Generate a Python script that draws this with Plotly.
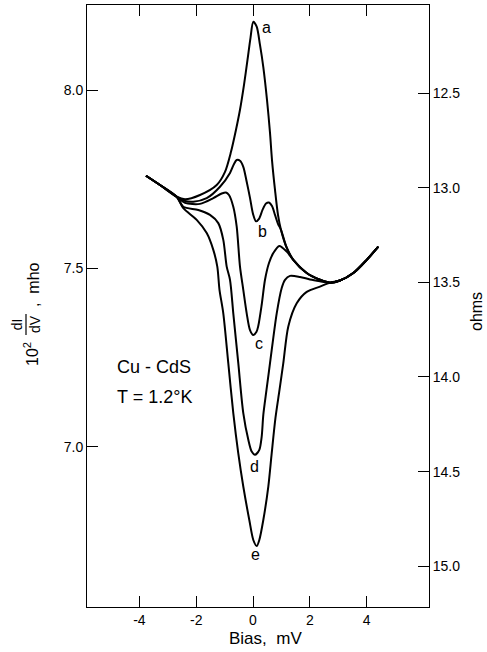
import plotly.graph_objects as go

# ---------------- data (Bias in mV, 10^2 dI/dV in mho) ----------------
common_left_x = [-3.768, -3.275, -2.687]
common_left_y = [7.760, 7.734, 7.701]
common_right_x = [2.711, 3.063, 3.532, 4.004, 4.412]
common_right_y = [7.460, 7.466, 7.487, 7.524, 7.561]

a_x = [-2.394, -1.866, -1.278, -0.986, -0.775, -0.599, -0.458, -0.317, -0.194, -0.088,
       0.011, 0.130, 0.246, 0.363, 0.493, 0.599, 0.669, 0.775, 0.880, 0.986,
       1.187, 1.419, 1.891, 2.359]
a_y = [7.694, 7.706, 7.734, 7.771, 7.827, 7.889, 7.945, 8.015, 8.085, 8.147,
       8.192, 8.178, 8.127, 8.065, 7.973, 7.880, 7.804, 7.720, 7.650, 7.608,
       7.558, 7.524, 7.487, 7.468]

b_x = [-2.394, -2.102, -1.630, -1.162, -0.810, -0.669, -0.574, -0.458, -0.342, -0.222,
       -0.106, 0.000, 0.106, 0.211, 0.335, 0.458, 0.563, 0.669, 0.775, 0.880,
       0.986, 1.187, 1.419, 1.891, 2.359]
b_y = [7.689, 7.687, 7.697, 7.729, 7.768, 7.793, 7.804, 7.802, 7.785, 7.743,
       7.698, 7.653, 7.632, 7.639, 7.664, 7.682, 7.685, 7.675, 7.650, 7.625,
       7.608, 7.558, 7.524, 7.487, 7.468]

c_x = [-2.394, -1.866, -1.398, -1.102, -0.951, -0.845, -0.694, -0.574, -0.458, -0.342,
       -0.222, -0.106, 0.011, 0.123, 0.187, 0.306, 0.423, 0.563, 0.715, 0.926,
       1.187, 1.419, 1.891, 2.359]
c_y = [7.684, 7.681, 7.697, 7.710, 7.713, 7.706, 7.673, 7.617, 7.505, 7.440,
       7.374, 7.327, 7.313, 7.322, 7.339, 7.398, 7.468, 7.515, 7.543, 7.563,
       7.547, 7.524, 7.487, 7.468]

d_x = [-2.454, -1.926, -1.514, -1.222, -1.046, -0.926, -0.810, -0.694, -0.518, -0.342,
       -0.165, -0.046, 0.070, 0.222, 0.306, 0.363, 0.475, 0.599, 0.835, 1.011,
       1.127, 1.303, 1.655, 2.007, 2.359]
d_y = [7.673, 7.664, 7.650, 7.627, 7.580, 7.505, 7.468, 7.374, 7.234, 7.094,
       7.019, 6.986, 6.977, 6.991, 7.028, 7.089, 7.159, 7.234, 7.374, 7.445,
       7.468, 7.479, 7.476, 7.469, 7.464]

e_x = [-2.454, -1.982, -1.630, -1.398, -1.257, -1.180, -1.046, -0.870, -0.694, -0.518,
       -0.342, -0.130, 0.011, 0.130, 0.222, 0.363, 0.539, 0.658, 0.792, 0.933,
       1.067, 1.243, 1.539, 1.891, 2.359]
e_y = [7.669, 7.636, 7.599, 7.552, 7.505, 7.440, 7.374, 7.234, 7.094, 6.981,
       6.888, 6.794, 6.738, 6.721, 6.738, 6.794, 6.888, 6.981, 7.081, 7.159,
       7.234, 7.337, 7.402, 7.434, 7.449]

curve_names = ["a", "b", "c", "d", "e"]
curves_x = [a_x, b_x, c_x, d_x, e_x]
curves_y = [a_y, b_y, c_y, d_y, e_y]
label_x = [0.482, 0.342, 0.222, 0.035, 0.081]
label_y = [8.175, 7.603, 7.290, 6.944, 6.696]

x_tickvals = [-4, -2, 0, 2, 4]
x_ticktext = ["-4", "-2", "0", "2", "4"]
y_tickvals = [7.0, 7.5, 8.0]
y_ticktext = ["7.0", "7.5", "8.0"]
ohm_tickvals = [12.5, 13.0, 13.5, 14.0, 14.5, 15.0]
ohm_ticktext = ["12.5", "13.0", "13.5", "14.0", "14.5", "15.0"]

FONT = "Liberation Sans"
W, H = 487, 652
ML, MR, MT, MB = 87, 58, 5, 45

fig = go.Figure()
for name, xs, ys in zip(curve_names, curves_x, curves_y):
    fig.add_trace(go.Scatter(
        x=common_left_x + xs + common_right_x,
        y=common_left_y + ys + common_right_y,
        mode="lines", name=name, showlegend=False,
        line=dict(color="black", width=2, shape="spline", smoothing=0.8),
        hoverinfo="skip",
    ))

# dummy trace to activate the ohms axis
fig.add_trace(go.Scatter(x=[0], y=[13.0], yaxis="y2", mode="lines",
                         showlegend=False, hoverinfo="skip"))

axis_common = dict(showgrid=False, zeroline=False, showline=True, linecolor="black",
                   linewidth=1, ticks="inside", ticklen=11, tickcolor="black",
                   tickwidth=1, tickfont=dict(family=FONT, size=14, color="black"))

fig.update_layout(
    width=W, height=H,
    margin=dict(l=ML, r=MR, t=MT, b=MB, pad=0),
    paper_bgcolor="white", plot_bgcolor="white",
    font=dict(family=FONT, color="black"),
    xaxis=dict(range=[-5.845, 6.197], tickvals=x_tickvals, ticktext=x_ticktext,
               mirror="ticks", **axis_common),
    yaxis=dict(range=[6.55, 8.239], tickvals=y_tickvals, ticktext=y_ticktext,
               mirror=True, **axis_common),
    yaxis2=dict(range=[15.215, 12.035], tickvals=ohm_tickvals, ticktext=ohm_ticktext,
                overlaying="y", side="right", **axis_common),
)

def px2paper(px, py):
    return (px - ML) / (W - ML - MR), (H - MB - py) / (H - MT - MB)

def paper_text(px, py, text, size, angle=0, xanchor="center"):
    x, y = px2paper(px, py)
    return dict(x=x, y=y, xref="paper", yref="paper", text=text, showarrow=False,
                textangle=angle, xanchor=xanchor, yanchor="middle",
                font=dict(family=FONT, size=size, color="black"))

ann = []
for name, lx, ly in zip(curve_names, label_x, label_y):
    ann.append(dict(x=lx, y=ly, xref="x", yref="y", text=name, showarrow=False,
                    xanchor="center", yanchor="middle",
                    font=dict(family=FONT, size=16, color="black")))

ann.append(paper_text(265, 638, "Bias,  mV", 17))
ann.append(paper_text(476, 311, "ohms", 16, -90))
ann.append(paper_text(31, 354, "10<sup>2</sup>", 16, -90))
ann.append(paper_text(26, 324, "dI<br>dV", 14, -90))
ann.append(paper_text(33, 285, ",  mho", 16, -90))
ann.append(paper_text(115, 367, "Cu - CdS", 18, 0, "left"))
ann.append(paper_text(115, 397, "T = 1.2°K", 18, 0, "left"))
fig.update_layout(annotations=ann)

# fraction bar
lx0, ly0 = px2paper(26, 314)
lx1, ly1 = px2paper(26, 335)
fig.add_shape(type="line", xref="paper", yref="paper", x0=lx0, x1=lx1, y0=ly0, y1=ly1,
              line=dict(color="black", width=1.2))

fig.write_html("out.html")
